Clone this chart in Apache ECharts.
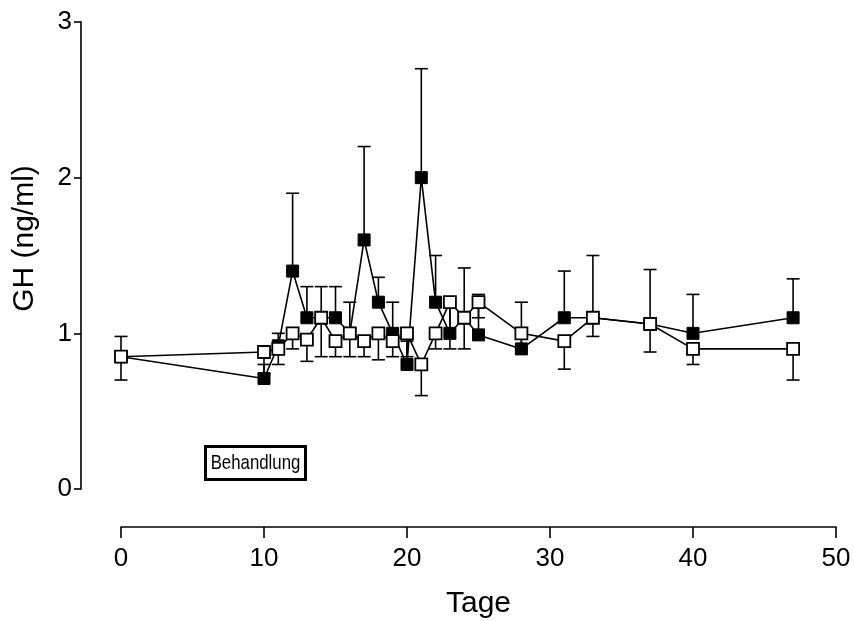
<!DOCTYPE html>
<html>
<head>
<meta charset="utf-8">
<script src="https://cdn.jsdelivr.net/npm/echarts@6/dist/echarts.min.js"></script>
<style>
  html, body { margin: 0; padding: 0; background: #fff; }
  #chart { width: 854px; height: 621px; }
</style>
</head>
<body>
<div id="chart"></div>
<script>
// Tage (Messzeitpunkte)
const days = [0, 10, 11, 12, 13, 14, 15, 16, 17, 18, 19, 20, 21, 22, 23, 24, 25, 28, 31, 33, 37, 40, 47]

// gefüllte Quadrate: Mittelwert + obere Fehlergrenze
const filledMean  = [0.85, 0.71, 0.92, 1.4, 1.1, 1.1, 1.1, 1.0, 1.6, 1.2, 1.0, 0.8, 2.0, 1.2, 1.0, 1.1, 0.99, 0.9, 1.1, 1.1, 1.06, 1.0, 1.1]
const filledUpper = [0.98, 0.8, 1.0, 1.9, 1.3, 1.3, 1.3, 1.2, 2.2, 1.36, 1.2, 0.95, 2.7, 1.5, 1.2, 1.42, 1.25, 1.2, 1.4, 1.5, 1.41, 1.25, 1.35]

// offene Quadrate: Mittelwert + untere Fehlergrenze
const openMean  = [0.85, 0.88, 0.9, 1.0, 0.96, 1.1, 0.95, 1.0, 0.95, 1.0, 0.95, 1.0, 0.8, 1.0, 1.2, 1.1, 1.2, 1.0, 0.95, 1.1, 1.06, 0.9, 0.9]
const openLower = [0.70, 0.74, 0.8, 0.9, 0.82, 0.85, 0.85, 0.85, 0.85, 0.83, 0.85, 0.85, 0.6, 0.9, 0.9, 0.9, 1.1, 0.9, 0.77, 0.98, 0.88, 0.8, 0.7]

const xTicks = [0, 10, 20, 30, 40, 50]
const yTicks = [0, 1, 2, 3]

const chart = echarts.init(document.getElementById('chart'))

// Fehlerbalken mit Querstrich
const errorBar = (params, api) => {
  const x = api.value(0)
  const p1 = api.coord([x, api.value(1)])
  const p2 = api.coord([x, api.value(2)])
  const half = 6.5
  const style = { stroke: '#000', lineWidth: 1.6 }
  return {
    type: 'group',
    children: [
      { type: 'line', shape: { x1: p1[0], y1: p1[1], x2: p2[0], y2: p2[1] }, style },
      { type: 'line', shape: { x1: p2[0] - half, y1: p2[1], x2: p2[0] + half, y2: p2[1] }, style }
    ]
  }
}

const font = 'Liberation Sans, Arial, sans-serif'

const option = {
  backgroundColor: '#fff',
  animation: false,
  grid: { left: 121, right: 18, top: 22, bottom: 132, containLabel: false, outerBoundsMode: 'none' },
  xAxis: {
    type: 'value',
    min: 0, max: 50, interval: 10,
    offset: 38,
    name: 'Tage',
    nameLocation: 'middle',
    nameGap: 62,
    nameTextStyle: { fontFamily: font, fontSize: 30, color: '#000' },
    axisLine: { show: true, onZero: false, lineStyle: { color: '#000', width: 1.6 } },
    axisTick: { show: true, length: 11, lineStyle: { color: '#000', width: 1.6 } },
    axisLabel: { fontFamily: font, fontSize: 26, color: '#000', margin: 19,
      formatter: v => xTicks.includes(v) ? String(v) : '' },
    splitLine: { show: false }
  },
  yAxis: {
    type: 'value',
    min: 0, max: 3, interval: 1,
    offset: 40,
    name: 'GH (ng/ml)',
    nameLocation: 'middle',
    nameGap: 41,
    nameTextStyle: { fontFamily: font, fontSize: 30, color: '#000', padding: [0, 0, 0, 34] },
    axisLine: { show: true, onZero: false, lineStyle: { color: '#000', width: 1.6 } },
    axisTick: { show: true, length: 7, lineStyle: { color: '#000', width: 1.6 } },
    axisLabel: { fontFamily: font, fontSize: 26, color: '#000', margin: 9,
      formatter: v => yTicks.includes(v) ? String(v) : '' },
    splitLine: { show: false }
  },
  series: [
    {
      type: 'custom',
      renderItem: errorBar,
      data: days.map((d, i) => [d, filledMean[i], filledUpper[i]]),
      z: 1
    },
    {
      type: 'line',
      data: days.map((d, i) => [d, filledMean[i]]),
      symbol: 'rect',
      symbolSize: 12,
      lineStyle: { color: '#000', width: 1.6 },
      itemStyle: { color: '#000', borderColor: '#000', borderWidth: 1 },
      z: 2
    },
    {
      type: 'custom',
      renderItem: errorBar,
      data: days.map((d, i) => [d, openMean[i], openLower[i]]),
      z: 3
    },
    {
      type: 'line',
      data: days.map((d, i) => [d, openMean[i]]),
      symbol: 'rect',
      symbolSize: 12,
      showAllSymbol: true,
      lineStyle: { color: '#000', width: 1.6 },
      itemStyle: { color: '#fff', borderColor: '#000', borderWidth: 1.8 },
      z: 4
    }
  ],
  graphic: [
    {
      // Kasten "Behandlung"
      type: 'group',
      left: 204,
      top: 445,
      children: [
        {
          type: 'rect',
          shape: { x: 1.5, y: 1.5, width: 100, height: 33 },
          style: { fill: '#fff', stroke: '#000', lineWidth: 3 }
        },
        {
          type: 'text',
          x: 51.5,
          y: 18.5,
          scaleX: 0.8,
          style: {
            text: 'Behandlung',
            fontFamily: font,
            fontSize: 21,
            fill: '#000',
            align: 'center',
            verticalAlign: 'middle'
          }
        }
      ]
    }
  ]
}

chart.setOption(option)
</script>
</body>
</html>
